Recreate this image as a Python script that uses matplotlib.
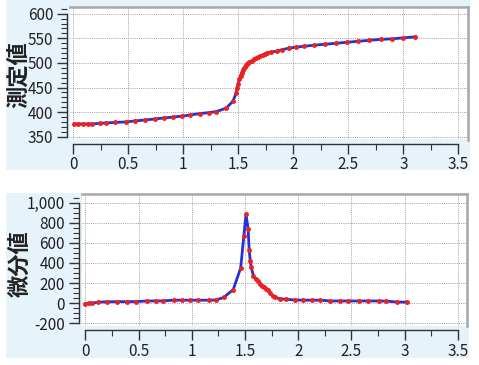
import matplotlib
matplotlib.use("Agg")
import matplotlib.pyplot as plt
from matplotlib.patches import Rectangle
from matplotlib.ticker import MultipleLocator, FuncFormatter

# ── data ──────────────────────────────────────────────────────────────
x_meas = [0.01, 0.04, 0.09, 0.13, 0.17, 0.24, 0.30, 0.38, 0.48, 0.56, 0.65,
          0.74, 0.82, 0.91, 0.99, 1.06, 1.15, 1.23, 1.30, 1.39, 1.45, 1.48,
          1.49, 1.50, 1.51, 1.52, 1.53, 1.54, 1.55, 1.56, 1.57, 1.58, 1.59,
          1.60, 1.62, 1.64, 1.66, 1.68, 1.70, 1.72, 1.74, 1.76, 1.80, 1.85,
          1.90, 1.96, 2.02, 2.10, 2.19, 2.29, 2.39, 2.49, 2.59, 2.69, 2.80,
          2.90, 3.00, 3.11]
y_meas = [376, 376, 376, 376, 376, 377, 378, 379, 380, 382, 384,
          386, 388, 390, 392, 394, 397, 399, 401, 408, 422, 438,
          448, 458, 467, 474, 480, 485, 489, 492, 495, 497, 499,
          501, 504, 507, 509, 512, 514, 516, 518, 520, 522, 524,
          527, 530, 532, 534, 536, 538, 540, 542, 544, 546, 548,
          549, 551, 553]

x_diff = [0.00, 0.03, 0.06, 0.12, 0.20, 0.30, 0.39, 0.48, 0.58, 0.66, 0.73,
          0.83, 0.91, 0.98, 1.06, 1.16, 1.23, 1.30, 1.39, 1.46, 1.49, 1.51,
          1.53, 1.54, 1.55, 1.56, 1.58, 1.60, 1.62, 1.64, 1.66, 1.68, 1.70,
          1.72, 1.74, 1.76, 1.78, 1.83, 1.89, 1.97, 2.05, 2.13, 2.21, 2.30,
          2.39, 2.47, 2.57, 2.66, 2.76, 2.83, 2.93, 3.02]
y_diff = [-4, -2, 0, 10, 14, 15, 15, 16, 22, 22, 23,
          30, 30, 30, 30, 30, 32, 57, 135, 350, 672, 884,
          740, 528, 420, 355, 270, 242, 219, 192, 175, 158, 145,
          128, 101, 74, 57, 44, 38, 32, 30, 30, 30, 22,
          22, 22, 22, 22, 22, 20, 12, 10]

x_ticks = [0, 0.5, 1, 1.5, 2, 2.5, 3, 3.5]
top_yticks = [350, 400, 450, 500, 550, 600]
bot_yticks = [-200, 0, 200, 400, 600, 800, 1000]

# ── style ─────────────────────────────────────────────────────────────
W, H = 479, 365
BG = "#e6f3fb"
LINE_C = "#2630d8"
MARK_C = "#ee2020"
GRID_C = "#a0a0a0"
TEXT_C = "#222222"
FONT = ["Noto Sans CJK JP", "DejaVu Sans"]
plt.rcParams["font.family"] = FONT

fig = plt.figure(figsize=(W / 100, H / 100), dpi=100)
fig.patch.set_facecolor("white")


def px_rect(x0, y0, x1, y1):
    # pixel box (top-left origin) -> figure fraction rect
    return [x0 / W, 1 - y1 / H, (x1 - x0) / W, (y1 - y0) / H]


# light blue panels behind each chart
for x0, y0, x1, y1 in [(6, 0, 470, 170), (6, 193, 469, 358)]:
    r = px_rect(x0, y0, x1, y1)
    fig.patches.append(Rectangle((r[0], r[1]), r[2], r[3], transform=fig.transFigure,
                                 facecolor=BG, edgecolor="none", zorder=-5))


def style_ax(ax, xlim, ylim, yticks, ymin_step, fmt):
    ax.set_zorder(2)
    ax.set_facecolor("white")
    ax.set_xlim(*xlim)
    ax.set_ylim(*ylim)
    ax.set_xticks(x_ticks)
    ax.xaxis.set_minor_locator(MultipleLocator(0.25))
    ax.set_yticks(yticks)
    ax.yaxis.set_minor_locator(MultipleLocator(ymin_step))
    ax.xaxis.set_major_formatter(FuncFormatter(lambda v, p: f"{v:g}"))
    ax.yaxis.set_major_formatter(FuncFormatter(fmt))
    ax.grid(True, which="major", color=GRID_C, linestyle=(0, (1, 1.2)), linewidth=0.7)
    for s in ["top", "right"]:
        ax.spines[s].set_color("#a8a8a8")
        ax.spines[s].set_linewidth(1.8)
    ax.spines["left"].set_position(("outward", 2))
    ax.spines["bottom"].set_position(("outward", 3))
    ax.spines["left"].set_bounds(yticks[0], yticks[-1])
    ax.spines["bottom"].set_bounds(x_ticks[0], x_ticks[-1])
    for s in ["left", "bottom"]:
        ax.spines[s].set_color("#333333")
        ax.spines[s].set_linewidth(1.0)
    ax.tick_params(which="major", length=7, width=1.0, color="#333333",
                   labelsize=11, labelcolor=TEXT_C, pad=3)
    ax.tick_params(which="minor", length=4, width=0.8, color="#333333")
    ax.tick_params(axis="x", pad=2)


# ── top: 測定値 ───────────────────────────────────────────────────────
ax1 = fig.add_axes(px_rect(70, 6.5, 468, 139.5))
style_ax(ax1, (-0.030, 3.588), (344.3, 614.7), top_yticks, 10, lambda v, p: f"{v:.0f}")
ax1.plot(x_meas, y_meas, color=LINE_C, linewidth=2.0, zorder=3)
ax1.plot(x_meas, y_meas, linestyle="none", marker="o", markersize=2.5,
         color=MARK_C, zorder=4)
fig.text(18.5 / W, 1 - 74.5 / H, "測定値", rotation=90, ha="center", va="center",
         fontsize=16, fontweight="bold", color=TEXT_C)

# ── bottom: 微分値 ────────────────────────────────────────────────────
ax2 = fig.add_axes(px_rect(81.7, 194, 467, 326))
style_ax(ax2, (-0.034, 3.587), (-227, 1086), bot_yticks, 50, lambda v, p: f"{v:,.0f}")
ax2.plot(x_diff, y_diff, color=LINE_C, linewidth=2.0, zorder=3)
ax2.plot(x_diff, y_diff, linestyle="none", marker="o", markersize=2.5,
         color=MARK_C, zorder=4)
fig.text(20 / W, 1 - 263.5 / H, "微分値", rotation=90, ha="center", va="center",
         fontsize=16, fontweight="bold", color=TEXT_C)

fig.savefig("out.png", dpi=100, facecolor=fig.get_facecolor())
